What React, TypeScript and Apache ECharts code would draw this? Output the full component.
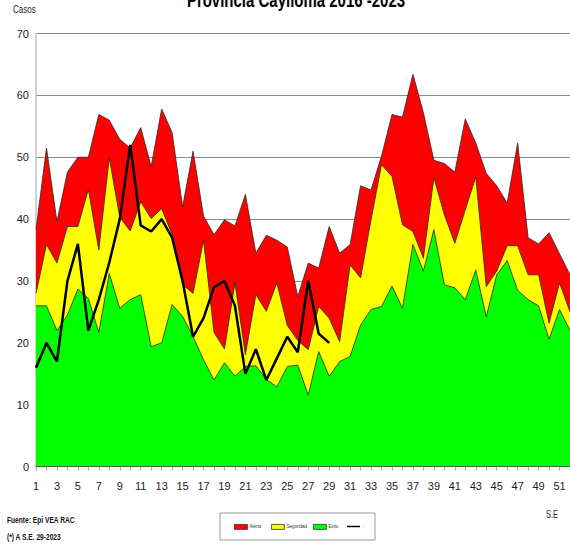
import React, { useEffect, useRef } from "react";
import * as echarts from "echarts";

const weeks: string[] = Array.from({ length: 52 }, (_, i) => String(i + 1));

// Upper limit of each zone (cumulative values)
const exito: number[] = [
  26, 26, 22, 24.5, 28.7, 27.2, 21.7, 31.2, 25.6, 27, 27.8, 19.4, 20, 26.2, 24.3, 21, 17.3, 14, 16.8, 14.6,
  16.2, 16.3, 14.1, 12.9, 16.2, 16.4, 11.6, 18.6, 14.6, 17, 17.8, 22.9, 25.4, 25.9, 29.2, 25.6, 35.9, 31.6,
  38.3, 29.4, 28.9, 27, 31.8, 24.2, 31, 33.3, 28.5, 27, 26, 20.6, 25.4, 22,
];
const seguridad: number[] = [
  28, 35.9, 32.9, 38.8, 38.8, 44.8, 35, 49.9, 40.3, 38.1, 42.8, 40.1, 41.7, 37.5, 29.4, 28, 36.6, 21.7, 19,
  29.7, 18.1, 27.8, 25.1, 29.7, 22.8, 20.4, 18.9, 25.9, 24, 20.2, 32.6, 30.5, 39.9, 48.8, 46.9, 39.1, 38,
  33.7, 46.7, 40.7, 36.1, 41.5, 46.8, 29.1, 31.6, 35.7, 35.7, 31, 31, 23.2, 29.7, 25,
];
const alerta: number[] = [
  38.3, 51.5, 39.6, 47.6, 50, 50, 56.9, 56, 52.9, 51.5, 54.8, 48.5, 57.8, 54, 42, 51, 40.5, 37.5, 39.9, 38.9,
  44, 34.5, 37.4, 36.6, 35.5, 27.5, 32.9, 32.1, 38.8, 34.5, 35.9, 45.4, 44.7, 50.2, 56.9, 56.5, 63.4, 57.2,
  49.5, 49, 47.6, 56.2, 52.3, 47.4, 45.4, 42.6, 52.3, 37, 36, 37.8, 34.4, 31,
];
// 2023 cases up to S.E. 29
const casos2023: number[] = [
  16, 20, 17, 30, 36, 22, 27, 33, 40, 52, 39, 38, 40, 37, 30, 21, 24, 29, 30, 26, 15, 19, 14, 17.5, 21, 18.5,
  30, 21.5, 20,
];
const yTicks = { min: 0, max: 70, interval: 10 };
const legendNames = ["Alerta", "Seguridad", "Exito", "-"];
const zoneColors = ["#ff0000", "#ffff00", "#00ff00"];

const FONT = '"Liberation Sans Narrow", "Arial Narrow", "Liberation Sans", Arial, sans-serif';

export default function App() {
  const ref = useRef<HTMLDivElement>(null);
  useEffect(() => {
    if (!ref.current) return;
    const chart = echarts.init(ref.current, undefined, { renderer: "svg" });
    const areaSeries = (name: string, data: number[], color: string) => ({
      name,
      type: "line",
      data,
      symbol: "none",
      smooth: false,
      lineStyle: { color: "#2a2a2a", width: 0.8 },
      itemStyle: { color },
      areaStyle: { color, opacity: 1 },
      z: 2,
    });
    const legendLefts = [234, 271, 313, 347];
    const legends = legendNames.map((name, i) => ({
      left: legendLefts[i],
      top: 524,
      itemWidth: 13,
      itemHeight: 5,
      padding: 0,
      z: 10,
      selectedMode: false,
      textStyle: { fontSize: 4.5, color: "#333", fontFamily: FONT, padding: [0, 0, 0, -3] },
      data: [
        i < 3
          ? { name, icon: "rect", itemStyle: { color: zoneColors[i], borderColor: "#333", borderWidth: 0.8 } }
          : { name, icon: "path://M0,0M0,1.7H14V3.3H0Z M14,5", itemStyle: { color: "#000", borderWidth: 0 } },
      ],
    }));
    chart.setOption({
      animation: false,
      textStyle: { fontFamily: FONT },
      grid: { left: 36, top: 33.5, right: -3, bottom: 81.3, containLabel: false },
      xAxis: {
        type: "category",
        data: weeks,
        boundaryGap: false,
        z: 5,
        axisLine: { show: true, lineStyle: { color: "#3b5f3b", width: 1.2 } },
        axisTick: { show: true, interval: 0, length: 4, lineStyle: { color: "#aaa" } },
        axisLabel: { interval: 1, margin: 14, fontSize: 11, color: "#222", fontFamily: FONT },
        splitLine: { show: false },
      },
      yAxis: {
        type: "value",
        min: yTicks.min,
        max: yTicks.max,
        interval: yTicks.interval,
        axisLine: { show: true, lineStyle: { color: "#c4c4c4", width: 1.5 } },
        axisTick: { show: false },
        axisLabel: { margin: 7, fontSize: 11, color: "#222", fontFamily: FONT },
        splitLine: { show: true, lineStyle: { color: "#8a8a8a", width: 1 } },
      },
      legend: legends,
      series: [
        areaSeries(legendNames[0], alerta, zoneColors[0]),
        areaSeries(legendNames[1], seguridad, zoneColors[1]),
        areaSeries(legendNames[2], exito, zoneColors[2]),
        {
          name: legendNames[3],
          type: "line",
          data: casos2023,
          symbol: "none",
          lineStyle: { color: "#000", width: 2.5 },
          itemStyle: { color: "#000" },
          z: 3,
        },
      ],
      graphic: [
        {
          type: "rect",
          z: 1,
          shape: { x: 220, y: 513, width: 155, height: 27 },
          style: { fill: "#fff", stroke: "#9a9a9a", lineWidth: 1 },
        },
        {
          type: "text",
          x: 296,
          y: 10,
          scaleX: 0.75,
          style: {
            text: "Provincia Caylloma 2016 -2023",
            fontSize: 20,
            fontWeight: "bold",
            fontFamily: FONT,
            fill: "#000",
            align: "center",
            verticalAlign: "bottom",
          },
        },
        {
          type: "text",
          x: 13,
          y: 10,
          scaleX: 0.8,
          style: { text: "Casos", fontSize: 10, fontFamily: FONT, fill: "#222", verticalAlign: "middle" },
        },
        {
          type: "text",
          x: 546,
          y: 515,
          scaleX: 0.75,
          style: { text: "S.E", fontSize: 10, fontFamily: FONT, fill: "#222", verticalAlign: "middle" },
        },
        {
          type: "text",
          x: 7,
          y: 520,
          scaleX: 0.7,
          style: {
            text: "Fuente: Epi VEA RAC",
            fontSize: 9.5,
            fontWeight: "bold",
            fontFamily: FONT,
            fill: "#111",
            verticalAlign: "middle",
          },
        },
        {
          type: "text",
          x: 7,
          y: 537,
          scaleX: 0.7,
          style: {
            text: "(*) A S.E. 29-2023",
            fontSize: 9.5,
            fontWeight: "bold",
            fontFamily: FONT,
            fill: "#111",
            verticalAlign: "middle",
          },
        },
      ],
    });
    return () => chart.dispose();
  }, []);
  return (
    <div
      ref={ref}
      style={{ position: "absolute", left: 0, top: 0, width: 570, height: 548, background: "#fff" }}
    />
  );
}
